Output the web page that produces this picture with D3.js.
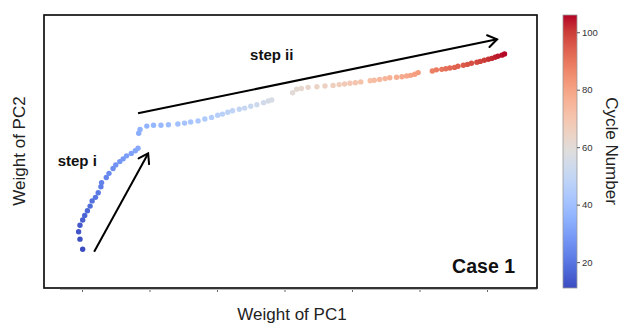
<!DOCTYPE html>
<html>
<head>
<meta charset="utf-8">
<script src="https://cdn.jsdelivr.net/npm/d3@7"></script>
<style>
  html, body { margin: 0; padding: 0; background: #fff; }
  svg { display: block; font-family: "Liberation Sans", Arial, sans-serif; }
</style>
</head>
<body>
<svg id="chart" width="622" height="325"></svg>
<script>
// ---- data ----
const cycles = [
  11,12,13,14,15,16,17,18,19,20,21,22,23,24,25,26,27,28,29,30,31,32,33,
  34,35,36,37,38,39,40,41,42,43,44,45,46,47,48,49,50,51,52,53,54,55,56,
  60,61,62,63,64,65,66,67,68,69,70,71,72,73,74,75,76,77,78,79,80,81,82,
  88,89,90,91,92,93,94,95,96,97,98,99,100,101,102,103,104,105,106
];
const pc1 = [
  0.01,-0.03,-0.05,-0.03,0.01,0.04,0.08,0.12,0.15,0.20,0.24,0.28,0.29,0.36,0.40,0.46,0.50,0.56,0.61,0.66,0.73,0.79,0.83,
  0.84,0.86,0.96,1.06,1.17,1.28,1.42,1.52,1.61,1.72,1.82,1.92,2.01,2.08,2.16,2.23,2.33,2.41,2.50,2.59,2.69,2.76,2.81,
  3.12,3.18,3.25,3.35,3.48,3.60,3.72,3.81,3.89,3.97,4.05,4.13,4.27,4.33,4.41,4.49,4.56,4.66,4.74,4.81,4.87,4.93,4.98,
  5.19,5.25,5.33,5.39,5.45,5.52,5.57,5.65,5.71,5.77,5.85,5.90,5.96,6.02,6.07,6.12,6.16,6.22,6.26
];
const pc2 = [
  1.42,1.79,2.06,2.30,2.49,2.66,2.83,3.00,3.19,3.32,3.49,3.71,3.86,4.05,4.20,4.38,4.51,4.63,4.73,4.84,4.93,5.03,5.12,
  5.67,5.81,5.93,5.96,5.96,5.98,6.01,6.04,6.08,6.12,6.19,6.25,6.33,6.37,6.44,6.49,6.55,6.59,6.66,6.71,6.79,6.85,6.89,
  7.15,7.28,7.31,7.35,7.37,7.40,7.42,7.45,7.47,7.50,7.52,7.55,7.59,7.61,7.64,7.67,7.70,7.72,7.74,7.77,7.79,7.83,7.89,
  7.95,7.99,8.01,8.03,8.06,8.08,8.12,8.16,8.19,8.23,8.27,8.30,8.34,8.38,8.41,8.45,8.49,8.53,8.57
];
const xTicks = [0, 1, 2, 3, 4, 5, 6];
const cbTicks = [20, 40, 60, 80, 100];
const cycleRange = [11, 106];

// annotations (data coordinates)
const arrowFrom = [[0.18, 1.33], [0.83, 6.40]];
const arrowTo   = [[0.98, 4.93], [6.15, 9.11]];
const stepLabels = ["step i", "step ii"];
const stepPos = [[-0.36, 4.46], [2.49, 8.35]];
const caseLabel = "Case 1";

// ---- colormap (coolwarm) ----
const coolwarmStops = ["#3b4cc0","#4d68d7","#6282ea","#7799f6","#8db0fe","#a3c2ff","#b8d0f9","#ccd9ee",
  "#dddddd","#ecd3c5","#f5c4ad","#f7b194","#f49a7b","#ec7f63","#de604d","#cb3e38","#b40426"];
const coolwarm = d3.piecewise(d3.interpolateRgb, coolwarmStops);

// ---- layout ----
const svg = d3.select("#chart");
const plot = {left: 44, top: 15, right: 537, bottom: 288};

const x = d3.scaleLinear().domain([-0.563, 6.741]).range([plot.left, plot.right]);
const y = d3.scaleLinear().domain([0, 10]).range([plot.bottom, plot.top]);
const color = d3.scaleSequential(coolwarm).domain(cycleRange);

// bottom ticks (no labels)
const xAxis = svg.append("g")
  .attr("transform", `translate(0,${plot.bottom + 1})`)
  .call(d3.axisBottom(x).tickValues(xTicks).tickSize(3).tickFormat(""));
xAxis.select(".domain").remove();
xAxis.selectAll(".tick line").attr("stroke", "#666");
svg.append("line")
  .attr("x1", 60).attr("x2", plot.right).attr("y1", plot.bottom + 1.5).attr("y2", plot.bottom + 1.5)
  .attr("stroke", "#bbb").attr("stroke-width", 1);

// points
const pts = cycles.map((c, i) => ({c, x: pc1[i], y: pc2[i]}));
svg.append("g").selectAll("circle").data(pts).join("circle")
  .attr("cx", d => x(d.x)).attr("cy", d => y(d.y)).attr("r", 2.7)
  .attr("fill", d => color(d.c));

// frame
svg.append("rect")
  .attr("x", plot.left).attr("y", plot.top)
  .attr("width", plot.right - plot.left).attr("height", plot.bottom - plot.top)
  .attr("fill", "none").attr("stroke", "#111").attr("stroke-width", 1.7);

// arrows
const defs = svg.append("defs");
defs.append("marker").attr("id", "ah")
  .attr("viewBox", "-12 -7 14 14").attr("refX", 0).attr("refY", 0)
  .attr("markerWidth", 14).attr("markerHeight", 14).attr("markerUnits", "userSpaceOnUse")
  .attr("orient", "auto")
  .append("path").attr("d", "M-9,-6 L0,0 L-9,6")
  .attr("fill", "none").attr("stroke", "#000").attr("stroke-width", 2).attr("stroke-linecap", "round");

arrowFrom.forEach((f, i) => {
  const t = arrowTo[i];
  svg.append("line")
    .attr("x1", x(f[0])).attr("y1", y(f[1]))
    .attr("x2", x(t[0])).attr("y2", y(t[1]))
    .attr("stroke", "#000").attr("stroke-width", 2)
    .attr("marker-end", "url(#ah)");
});

// step labels
stepLabels.forEach((s, i) => {
  svg.append("text")
    .attr("x", x(stepPos[i][0])).attr("y", y(stepPos[i][1]))
    .attr("font-size", 15).attr("font-weight", "bold").attr("fill", "#111")
    .text(s);
});

svg.append("text")
  .attr("x", plot.right - 22).attr("y", plot.bottom - 15)
  .attr("text-anchor", "end").attr("font-size", 19.5).attr("font-weight", "bold").attr("fill", "#111")
  .text(caseLabel);

// axis titles
svg.append("text")
  .attr("x", 292).attr("y", 320)
  .attr("text-anchor", "middle").attr("font-size", 17).attr("fill", "#222")
  .text("Weight of PC1");
svg.append("text")
  .attr("transform", "translate(25,151) rotate(-90)")
  .attr("text-anchor", "middle").attr("font-size", 17).attr("fill", "#222")
  .text("Weight of PC2");

// colorbar
const cb = {x: 563, w: 14};
const cy = d3.scaleLinear().domain(cycleRange).range([plot.bottom, plot.top]);
const grad = defs.append("linearGradient").attr("id", "cbgrad")
  .attr("x1", 0).attr("y1", 1).attr("x2", 0).attr("y2", 0);
d3.range(0, 1.0001, 1 / 32).forEach(t => {
  grad.append("stop").attr("offset", t).attr("stop-color", coolwarm(t));
});
svg.append("rect")
  .attr("x", cb.x).attr("y", plot.top).attr("width", cb.w).attr("height", plot.bottom - plot.top)
  .attr("fill", "url(#cbgrad)").attr("stroke", "#999").attr("stroke-width", 0.8);
const cbAxis = svg.append("g")
  .attr("transform", `translate(${cb.x + cb.w},0)`)
  .call(d3.axisRight(cy).tickValues(cbTicks).tickSize(3).tickPadding(2));
cbAxis.select(".domain").remove();
cbAxis.selectAll(".tick line").attr("stroke", "#555");
cbAxis.selectAll(".tick text").attr("font-size", 9.5).attr("fill", "#333")
  .attr("font-family", "\"Liberation Sans\", Arial, sans-serif");

svg.append("text")
  .attr("transform", "translate(606,151) rotate(90)")
  .attr("text-anchor", "middle").attr("font-size", 17).attr("fill", "#222")
  .text("Cycle Number");
</script>
</body>
</html>
